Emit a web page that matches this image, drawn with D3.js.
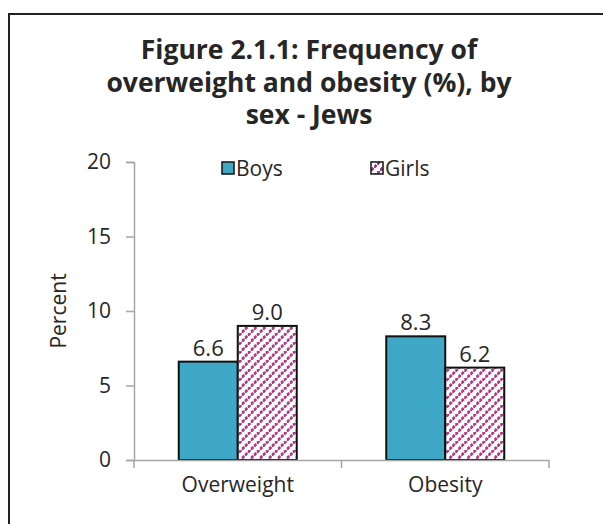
<!DOCTYPE html>
<html>
<head>
<meta charset="utf-8">
<script src="https://cdn.jsdelivr.net/npm/d3@7"></script>
<style>
  body { margin: 0; background: #fff; }
  text { font-family: "Open Sans", sans-serif; fill: #262626; }
</style>
</head>
<body>
<script>
// chart values
const categories = ["Overweight", "Obesity"];
const seriesNames = ["Boys", "Girls"];
const boys = [6.6, 8.3];
const girls = [9.0, 6.2];
const yTicks = [0, 5, 10, 15, 20];
const titleLines = ["Figure 2.1.1: Frequency of", "overweight and obesity (%), by", "sex - Jews"];

const width = 603, height = 524;
const blue = "#3ea8c6", pink = "#b23a8a";

const svg = d3.select("body").append("svg")
    .attr("width", width)
    .attr("height", height);

// hatch pattern for girls: dashed upward diagonals made of small squares
const defs = svg.append("defs");
const pat = defs.append("pattern")
    .attr("id", "hatch")
    .attr("patternUnits", "userSpaceOnUse")
    .attr("width", 9).attr("height", 9);
pat.append("rect").attr("width", 9).attr("height", 9).attr("fill", "#fff");
pat.selectAll("path")
  .data([[0, 7], [3, 4], [6, 1]])
  .join("path")
    .attr("d", ([px, py]) => `M${px},${py + 2}h2v-1h1v-2h-1v-1h-1v1h-1z`)
    .attr("fill", pink)
    .attr("shape-rendering", "crispEdges");

// outer frame
svg.append("rect")
    .attr("x", 9).attr("y", 14)
    .attr("width", 700).attr("height", 600)
    .attr("fill", "none")
    .attr("stroke", "#222")
    .attr("stroke-width", 2);

const margin = {left: 134, right: 54, top: 162, bottom: 64};

const x0 = d3.scaleBand()
    .domain(categories)
    .range([margin.left, width - margin.right]);
const x1 = d3.scaleBand()
    .domain(seriesNames)
    .range([0, 118]);
const y = d3.scaleLinear()
    .domain([0, 20])
    .range([height - margin.bottom, margin.top]);

// title
svg.append("text")
    .attr("text-anchor", "middle")
    .attr("font-weight", "bold")
    .attr("font-size", 26.5)
  .selectAll("tspan")
  .data(titleLines)
  .join("tspan")
    .attr("x", 309)
    .attr("y", (d, i) => 59 + i * 32.5)
    .text(d => d);

// y axis
const yAxis = svg.append("g")
    .attr("transform", `translate(${margin.left},0)`)
    .call(d3.axisLeft(y).tickValues(yTicks).tickSize(8).tickPadding(15).tickFormat(d3.format("d")));
yAxis.select(".domain").attr("stroke", "#a6a6a6").attr("stroke-width", 1.5);
yAxis.selectAll(".tick line").attr("stroke", "#a6a6a6").attr("stroke-width", 1.5);
yAxis.selectAll(".tick text").attr("font-size", 21).attr("font-family", "Open Sans, sans-serif").attr("fill", "#262626");

svg.append("text")
    .attr("transform", `translate(66,${(y(0) + y(20)) / 2}) rotate(-90)`)
    .attr("text-anchor", "middle")
    .attr("font-size", 21)
    .text("Percent");

// bars
const rows = categories.map((c, i) => ({cat: c, values: [boys[i], girls[i]]}));
const groups = svg.append("g")
  .selectAll("g")
  .data(rows)
  .join("g")
    .attr("transform", d => `translate(${x0(d.cat) + x0.bandwidth() / 2 - 59},0)`);

groups.selectAll("rect")
  .data(d => d.values.map((v, j) => ({name: seriesNames[j], v})))
  .join("rect")
    .attr("x", d => x1(d.name))
    .attr("y", d => y(d.v))
    .attr("width", x1.bandwidth())
    .attr("height", d => y(0) - y(d.v))
    .attr("fill", d => d.name === "Boys" ? blue : "url(#hatch)")
    .attr("stroke", "#111")
    .attr("stroke-width", 2);

groups.selectAll("text")
  .data(d => d.values.map((v, j) => ({name: seriesNames[j], v})))
  .join("text")
    .attr("x", d => x1(d.name) + x1.bandwidth() / 2)
    .attr("y", d => y(d.v) - 6)
    .attr("text-anchor", "middle")
    .attr("font-size", 22)
    .text(d => d3.format(".1f")(d.v));

// x axis
const xAxis = svg.append("g")
    .attr("transform", `translate(0,${y(0)})`)
    .call(d3.axisBottom(x0).tickSize(0).tickPadding(17));
xAxis.select(".domain").attr("stroke", "#a6a6a6").attr("stroke-width", 1.5);
xAxis.selectAll(".tick text").attr("font-size", 21).attr("font-family", "Open Sans, sans-serif").attr("fill", "#262626");
// category boundary ticks
xAxis.append("g")
  .selectAll("line")
  .data([margin.left, x0(categories[1]), width - margin.right])
  .join("line")
    .attr("x1", d => d).attr("x2", d => d)
    .attr("y1", 0).attr("y2", 8)
    .attr("stroke", "#a6a6a6")
    .attr("stroke-width", 1.5);

// legend
const legend = svg.append("g")
  .selectAll("g")
  .data(seriesNames)
  .join("g")
    .attr("transform", (d, i) => `translate(${222 + i * 149},162)`);
legend.append("rect")
    .attr("width", 12).attr("height", 12)
    .attr("fill", d => d === "Boys" ? blue : "url(#hatch)")
    .attr("stroke", "#111")
    .attr("stroke-width", 1.5);
legend.append("text")
    .attr("x", 14)
    .attr("y", 14)
    .attr("font-size", 21)
    .text(d => d);
</script>
</body>
</html>
